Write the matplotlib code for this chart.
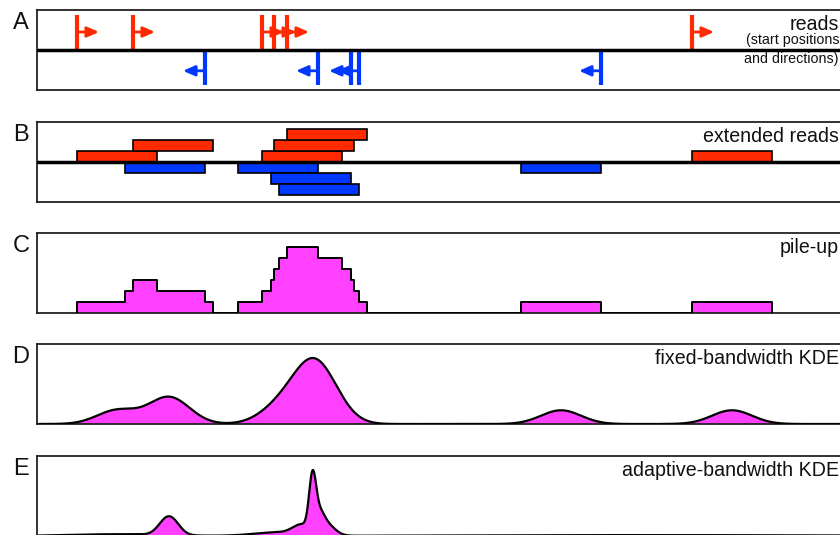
import numpy as np
import matplotlib
matplotlib.use("Agg")
import matplotlib.pyplot as plt
from matplotlib.transforms import blended_transform_factory

plt.rcParams['font.family'] = ['Liberation Sans', 'DejaVu Sans']

# ---------------- data ----------------
# read start positions (x, in plot position units) and strand
fwd_starts = [77, 133, 262, 274, 287, 692]     # red, forward strand
rev_starts = [205, 318, 351, 359, 601]         # blue, reverse strand (start = right end)
extend_len = 80                                # extended read length
panel_letters = ['A', 'B', 'C', 'D', 'E']
panel_titles = ['reads', 'extended reads', 'pile-up',
                'fixed-bandwidth KDE', 'adaptive-bandwidth KDE']
reads_note = ['(start positions', 'and directions)']
fixed_bw = 20.0

# ---------------- style ----------------
RED = '#ff2a00'
BLUE = '#0038ff'
MAG = '#ff40ff'
W, H = 840, 535
XMIN, XMAX = 37, 880
ARROW_LEN = 22
ROW_H = 11

fig = plt.figure(figsize=(W / 100, H / 100), dpi=100)
tops = [10, 122, 233, 344, 456]
axes = []
for i, t in enumerate(tops):
    ax = fig.add_axes([XMIN / W, 1 - (t + 80) / H, (XMAX - XMIN) / W, 80 / H])
    ax.set_xlim(XMIN, XMAX)
    ax.set_xticks([]); ax.set_yticks([])
    for s in ax.spines.values():
        s.set_linewidth(1.3)
        s.set_color('#222222')
    axes.append(ax)
    fig.text(21 / W, 1 - (t + 13) / H, panel_letters[i], fontsize=17,
             ha='center', va='center', color='#111111')
    tr = blended_transform_factory(ax.transData, ax.transAxes)
    ax.text(839, 0.75, panel_titles[i], transform=tr, ha='right',
            va='baseline', fontsize=14.1, color='#111111', zorder=10)

# ---- A: reads ----
ax = axes[0]
ax.set_ylim(0, 1)
ax.axhline(0.5, color='black', lw=2.5, zorder=3)
tr = blended_transform_factory(ax.transData, ax.transAxes)
ax.text(839, 0.58, reads_note[0], transform=tr, ha='right', va='baseline',
        fontsize=10.3, color='#111111')
ax.text(839, 0.34, reads_note[1], transform=tr, ha='right', va='baseline',
        fontsize=10.3, color='#111111')
astyle = '-|>,head_length=0.5,head_width=0.22'
for x in fwd_starts:
    ax.plot([x, x], [0.5, 0.9375], color=RED, lw=3, solid_capstyle='butt', zorder=2)
    ax.annotate('', xy=(x + ARROW_LEN, 0.725), xytext=(x, 0.725),
                arrowprops=dict(arrowstyle=astyle, color=RED, lw=2,
                                mutation_scale=14, shrinkA=0, shrinkB=0))
for x in rev_starts:
    ax.plot([x, x], [0.5, 0.0625], color=BLUE, lw=3, solid_capstyle='butt', zorder=2)
    ax.annotate('', xy=(x - ARROW_LEN, 0.24), xytext=(x, 0.24),
                arrowprops=dict(arrowstyle=astyle, color=BLUE, lw=2,
                                mutation_scale=14, shrinkA=0, shrinkB=0))

# ---- B: extended reads ----
def assign_rows(intervals):
    rows_end = []
    out = []
    for a, b in sorted(intervals):
        for r, e in enumerate(rows_end):
            if a >= e:
                rows_end[r] = b
                out.append((a, b, r))
                break
        else:
            rows_end.append(b)
            out.append((a, b, len(rows_end) - 1))
    return out

fwd_iv = [(s, s + extend_len) for s in fwd_starts]
rev_iv = [(s - extend_len, s) for s in rev_starts]
ax = axes[1]
ax.set_ylim(-40, 40)
for a, b, r in assign_rows(fwd_iv):
    ax.bar(a, ROW_H, width=b - a, bottom=r * ROW_H, align='edge',
           color=RED, edgecolor='black', lw=1.2, zorder=2)
for a, b, r in assign_rows(rev_iv):
    ax.bar(a, -ROW_H, width=b - a, bottom=-r * ROW_H, align='edge',
           color=BLUE, edgecolor='black', lw=1.2, zorder=2)
ax.axhline(0, color='black', lw=2.5, zorder=3)

# ---- C: pile-up ----
all_iv = fwd_iv + rev_iv
edges = sorted(set([p for iv in all_iv for p in iv]))
xs = np.array(edges, dtype=float)
cov = np.array([sum(1 for a, b in all_iv if a <= x < b) for x in xs])
xs = np.r_[xs[0], xs]
cov = np.r_[0, cov]
ax = axes[2]
ax.set_ylim(0, 80 / ROW_H)
ax.fill_between(xs, cov, step='post', facecolor=MAG, edgecolor='none', zorder=2)
ax.step(xs, cov, where='post', color='black', lw=1.4, zorder=3)

# ---- D/E: KDE on extended read centers ----
centers = np.array([s + extend_len / 2 for s in fwd_starts] +
                   [s - extend_len / 2 for s in rev_starts], dtype=float)
grid = np.linspace(XMIN, XMAX, 3000)

def gauss_kde(g, pts, bws):
    z = (g[:, None] - pts[None, :]) / bws[None, :]
    return (np.exp(-0.5 * z ** 2) / bws[None, :]).sum(axis=1)

fixed = gauss_kde(grid, centers, np.full(len(centers), fixed_bw))
d = np.abs(centers[:, None] - centers[None, :])
np.fill_diagonal(d, np.inf)
nn_bw = d.min(axis=1)
adaptive = gauss_kde(grid, centers, nn_bw)

for ax, dens, frac in [(axes[3], fixed, 66 / 80), (axes[4], adaptive, 66 / 80)]:
    ax.set_ylim(0, dens.max() / frac)
    ax.fill_between(grid, dens, color=MAG, lw=0, zorder=2)
    ax.plot(grid, dens, color='black', lw=1.6, zorder=3)

fig.savefig('out.png', dpi=100)
